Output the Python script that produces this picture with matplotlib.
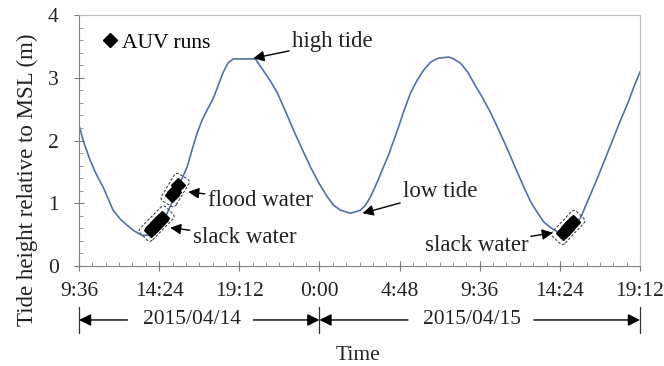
import matplotlib
matplotlib.use('Agg')
import matplotlib.pyplot as plt
import numpy as np
from matplotlib.patches import FancyBboxPatch
from matplotlib.transforms import Affine2D, blended_transform_factory
from matplotlib.ticker import MultipleLocator, FuncFormatter

plt.rcParams['font.family'] = ['Liberation Serif', 'DejaVu Serif']

# hours since 2015/04/14 0:00
tide_hours = [9.6, 9.9, 10.26, 10.62, 11.04, 11.64, 12.06, 12.48, 12.9, 13.38, 13.74,
              14.0, 14.28, 14.58, 14.88, 15.18, 15.48, 15.78, 16.08, 16.38, 16.68,
              16.98, 17.28, 17.64, 17.94, 18.24, 18.54, 18.84, 20.16, 20.5, 21.06,
              21.48, 21.96, 22.44, 22.95, 23.46, 23.97, 24.48, 24.84, 25.26, 25.86,
              26.46, 26.76, 27.06, 27.45, 27.84, 28.14, 28.68, 29.07, 29.46, 29.85,
              30.24, 30.66, 31.08, 31.74, 32.04, 32.46, 32.88, 33.24, 33.75, 34.26,
              34.77, 35.28, 35.76, 36.24, 36.66, 37.08, 37.44, 37.86, 38.28, 38.88,
              39.24, 39.66, 40.17, 40.68, 41.16, 41.64, 42.06, 42.48, 42.84, 43.2]
tide_height = [2.24, 1.96, 1.69, 1.47, 1.26, 0.89, 0.75, 0.65, 0.56, 0.49, 0.49,
               0.53, 0.60, 0.71, 0.84, 1.02, 1.21, 1.40, 1.58, 1.86, 2.12,
               2.33, 2.49, 2.67, 2.88, 3.09, 3.24, 3.30, 3.30, 3.17, 2.95,
               2.76, 2.47, 2.17, 1.87, 1.58, 1.32, 1.10, 0.97, 0.89, 0.84,
               0.89, 0.97, 1.10, 1.33, 1.58, 1.77, 2.17, 2.48, 2.76, 2.96,
               3.12, 3.25, 3.31, 3.33, 3.30, 3.23, 3.09, 2.92, 2.69, 2.44,
               2.15, 1.85, 1.55, 1.26, 1.02, 0.84, 0.70, 0.61, 0.54, 0.52,
               0.62, 0.78, 1.10, 1.42, 1.74, 2.06, 2.34, 2.60, 2.86, 3.09]

# AUV runs (three groups)
auv_slack1_hours = [13.9, 14.0, 14.1, 14.2, 14.3, 14.4, 14.5, 14.6]
auv_slack1_height = [0.58, 0.60, 0.62, 0.65, 0.68, 0.71, 0.74, 0.77]
auv_flood_hours = [15.18, 15.3, 15.54]
auv_flood_height = [1.13, 1.18, 1.29]
auv_slack2_hours = [38.6, 38.7, 38.8, 38.9, 39.0, 39.1, 39.2]
auv_slack2_height = [0.53, 0.56, 0.59, 0.62, 0.65, 0.68, 0.70]

days = ['2015/04/14', '2015/04/15']
day_spans = [(9.6, 24.0), (24.0, 43.2)]

fig = plt.figure(figsize=(6.64, 3.66), dpi=100)
ax = fig.add_axes([79 / 664, 100 / 366, 561 / 664, 251 / 366])

ax.plot(tide_hours, tide_height, color='#5470a8', lw=1.2, zorder=2)

groups = [(auv_slack1_hours, auv_slack1_height),
          (auv_flood_hours, auv_flood_height),
          (auv_slack2_hours, auv_slack2_height)]
for i, (gx, gy) in enumerate(groups):
    ax.plot(gx, gy, 'D', color='black', ms=7, ls='none', zorder=4,
            label='AUV runs' if i == 0 else None)

ax.set_xlim(9.6, 43.2)
ax.set_ylim(0, 4)
ax.xaxis.set_major_locator(MultipleLocator(4.8))
ax.xaxis.set_minor_locator(MultipleLocator(0.8))
ax.yaxis.set_major_locator(MultipleLocator(1))
ax.yaxis.set_minor_locator(MultipleLocator(0.2))


def hm(v, pos):
    m = int(round(v * 60)) % (24 * 60)
    return '%d:%02d' % (m // 60, m % 60)


ax.xaxis.set_major_formatter(FuncFormatter(hm))
ax.tick_params(which='major', direction='inout', length=7, width=0.8,
               color='#777777', labelsize=15.5, labelcolor='#222222')
ax.tick_params(axis='x', which='major', pad=8)
ax.tick_params(axis='y', which='major', pad=11)
ax.tick_params(which='minor', direction='in', length=3, width=0.6, color='#888888')
for s in ['left', 'bottom']:
    ax.spines[s].set_color('#808080')
for s in ['top', 'right']:
    ax.spines[s].set_color('#c0c0c0')

fig.text(27 / 664, 1 - 180 / 366, 'Tide height relative to MSL (m)', rotation=90,
         ha='center', va='center', fontsize=16.5, color='#222222')
fig.text(358 / 664, 1 - 356 / 366, 'Time', ha='center', va='center',
         fontsize=15.5, color='#222222')

leg = ax.legend(loc='center left', bbox_to_anchor=(0.046, 0.89), frameon=False,
                handlelength=0.5, handletextpad=0.3, borderpad=0, borderaxespad=0,
                fontsize=15.5, markerscale=1.0)

# dashed rounded boxes around AUV groups
fig.canvas.draw()
for gx, gy in groups:
    pts = ax.transData.transform(np.column_stack([gx, gy]))
    p0, p1 = pts[0], pts[-1]
    c = (p0 + p1) / 2
    d = p1 - p0
    ang = np.degrees(np.arctan2(d[1], d[0]))
    half_l = np.hypot(*d) / 2 + 10
    half_w = 8.5
    box = FancyBboxPatch((-half_l, -half_w), 2 * half_l, 2 * half_w,
                         boxstyle='round,pad=0,rounding_size=4',
                         fill=False, ec='#444444', lw=0.8, ls=(0, (2.5, 1.5)),
                         transform=Affine2D().rotate_deg(ang).translate(c[0], c[1]),
                         zorder=3)
    ax.add_artist(box)

arrow = dict(arrowstyle='-|>', color='black', lw=1.0, mutation_scale=16,
             shrinkA=0, shrinkB=0)
notes = [('high tide', (20.04, 3.31), (22.35, 3.57), 'left'),
         ('flood water', (16.14, 1.18), (17.3, 1.05), 'left'),
         ('slack water', (15.06, 0.61), (16.4, 0.46), 'left'),
         ('low tide', (26.58, 0.84), (29.0, 1.18), 'left'),
         ('slack water', (37.98, 0.53), (36.5, 0.33), 'right')]
for txt, xy, xyt, ha in notes:
    ax.annotate(txt, xy=xy, xytext=xyt, ha=ha, va='center', fontsize=16.5,
                color='#222222', arrowprops=arrow, zorder=5)

# date brackets under the axis
tr = blended_transform_factory(ax.transData, ax.transAxes)
ybr = -0.215
bracket = dict(arrowstyle='-|>', color='black', lw=1.0, mutation_scale=18,
               shrinkA=0, shrinkB=0)
for (a, b), lab in zip(day_spans, days):
    mid = (a + b) / 2 - 0.45
    ax.text(mid, ybr, lab, transform=tr, ha='center', va='center',
            fontsize=15.5, color='#222222', clip_on=False)
    ax.annotate('', xy=(a, ybr), xytext=(mid - 3.85, ybr), xycoords=tr,
                textcoords=tr, arrowprops=bracket)
    ax.annotate('', xy=(b, ybr), xytext=(mid + 3.7, ybr), xycoords=tr,
                textcoords=tr, arrowprops=bracket)
for xb in [9.6, 24.0, 43.2]:
    ax.plot([xb, xb], [-0.165, -0.265], transform=tr, color='#333333', lw=0.9,
            clip_on=False)

fig.savefig('out.png', dpi=100)
